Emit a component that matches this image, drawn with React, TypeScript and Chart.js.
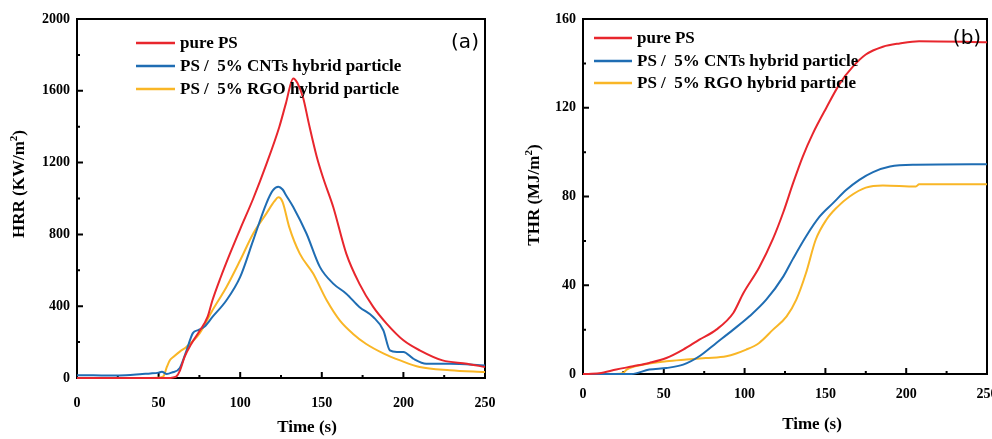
import React, { useEffect, useRef } from "react";
import { Chart, registerables } from "chart.js";
Chart.register(...registerables);

const seriesLabels = ["pure PS", "PS /  5% CNTs hybrid particle", "PS /  5% RGO hybrid particle"];
const seriesColors = ["#e8262d", "#1f6db3", "#f9b626"];

// Panel (a): HRR (KW/m2) vs time (s)
const hrrTimeRed = [0, 20, 40, 55, 59, 61, 63, 66, 70, 75, 80, 83, 88, 93.6, 100, 108, 116, 124, 128, 132.5, 135, 138.6, 142, 146.9, 151, 157, 165, 173, 181.5, 189.7, 200, 210, 224, 239, 250];
const hrrRed = [0, 0, 0, 0, 3, 10, 40, 119, 190, 260, 340, 433, 560, 690, 830, 1000, 1190, 1400, 1530, 1669, 1645, 1560, 1420, 1233, 1110, 953, 693, 526, 396, 303, 210, 154, 98, 80, 61];
const hrrTimeBlue = [0, 10, 20, 30, 40, 45, 50, 52, 55, 58, 63, 67, 71, 74.3, 78, 83, 91.6, 100, 108, 116, 120, 123.4, 126, 128, 132.5, 140.6, 148.8, 157, 165, 173, 181.5, 187.7, 191.7, 196, 200, 206, 214, 228.5, 250];
const hrrBlue = [15, 15, 14, 15, 22, 25, 30, 35, 22, 30, 56, 150, 250, 267, 285, 340, 433, 563, 768, 972, 1045, 1066, 1050, 1020, 953, 805, 619, 526, 470, 396, 340, 266, 154, 145, 145, 108, 80, 80, 70];
const hrrTimeYellow = [0, 20, 40, 50, 53, 55, 57, 59, 63, 67, 75, 83, 91.6, 100, 108, 116, 121, 123.4, 126, 130, 136.5, 144.7, 153, 161, 169, 177, 188, 198, 210, 228.5, 250];
const hrrYellow = [0, 0, 0, 2, 10, 60, 100, 117, 147, 173, 247, 377, 507, 656, 805, 916, 985, 1007, 980, 842, 693, 582, 433, 321, 247, 191, 136, 98, 61, 43, 33];

// Panel (b): THR (MJ/m2) vs time (s)
const thrTimeRed = [0, 10, 20.6, 31, 41, 51.6, 62, 72, 82.5, 93, 99.2, 109, 117.6, 124, 130, 136, 142, 150.6, 159, 167, 175, 185.6, 196, 208, 250];
const thrRed = [0, 0.3, 2, 3.5, 5, 7.2, 11, 15.5, 20, 27.5, 36.4, 48, 61, 73, 86, 98, 108, 120, 131, 138.5, 144, 147.5, 149, 150, 149.5];
const thrTimeBlue = [0, 20, 30, 41, 51.6, 62, 72, 82.5, 93, 103, 113.4, 124, 130, 138, 146.5, 154.7, 163, 171, 179.5, 190, 206, 250];
const thrBlue = [0, 0, 0, 2, 2.7, 4.2, 8, 14, 20, 26, 33.5, 44, 52, 62, 71, 77, 83, 87.5, 91, 93.5, 94.3, 94.5];
const thrTimeYellow = [0, 20, 25, 27, 37, 51.6, 64, 76, 88.7, 101, 109, 117.6, 126, 132, 138, 144, 150.6, 157, 165, 175, 185.6, 206, 208, 250];
const thrYellow = [0, 0, 0.5, 2, 4.2, 5.7, 6.5, 7.2, 8, 11, 14, 20, 26, 33.5, 45.5, 60.5, 69.5, 75, 80, 84, 85, 84.5, 85.5, 85.5];

const xTitle = "Time (s)";

type Panel = {
  tag: string;
  yTitle: string;
  yMax: number;
  yStep: number;
  times: number[][];
  values: number[][];
  canvasLeft: number;
  canvasWidth: number;
  area: { left: number; right: number; top: number; bottom: number };
  xPad: number;
  legend: { x0: number; x1: number; tx: number; rows: number[] };
  tagPos: { x: number; y: number };
  xTitlePos: { x: number; y: number };
  yTitlePos: { x: number; y: number };
};

const H = 439;
const serif = "'Liberation Serif', 'Times New Roman', serif";

const panels: Panel[] = [
  {
    tag: "(a)",
    yTitle: "HRR (KW/m",
    yMax: 2000,
    yStep: 400,
    times: [hrrTimeRed, hrrTimeBlue, hrrTimeYellow],
    values: [hrrRed, hrrBlue, hrrYellow],
    canvasLeft: 0,
    canvasWidth: 500,
    area: { left: 77, right: 485, top: 19, bottom: 378 },
    xPad: 17,
    legend: { x0: 136, x1: 175, tx: 180, rows: [43, 66, 89] },
    tagPos: { x: 465, y: 43 },
    xTitlePos: { x: 307, y: 428 },
    yTitlePos: { x: 20, y: 184 },
  },
  {
    tag: "(b)",
    yTitle: "THR (MJ/m",
    yMax: 160,
    yStep: 40,
    times: [thrTimeRed, thrTimeBlue, thrTimeYellow],
    values: [thrRed, thrBlue, thrYellow],
    canvasLeft: 500,
    canvasWidth: 492,
    area: { left: 83, right: 487, top: 19, bottom: 374 },
    xPad: 12,
    legend: { x0: 94, x1: 132, tx: 137, rows: [38, 61, 83] },
    tagPos: { x: 467, y: 39 },
    xTitlePos: { x: 312, y: 425 },
    yTitlePos: { x: 35, y: 195 },
  },
];

function makeDecor(p: Panel) {
  return {
    id: "decor" + p.tag,
    beforeDatasetsDraw(chart: any) {
      const ctx = chart.ctx as CanvasRenderingContext2D;
      const a = chart.chartArea;
      const xs = chart.scales.x;
      const ys = chart.scales.y;
      ctx.save();
      ctx.strokeStyle = "#000";
      ctx.lineWidth = 2;
      ctx.strokeRect(a.left, a.top, a.right - a.left, a.bottom - a.top);
      ctx.beginPath();
      for (let v = 0; v <= 250; v += 25) {
        const px = xs.getPixelForValue(v);
        const len = v % 50 === 0 ? 6 : 3;
        ctx.moveTo(px, a.bottom);
        ctx.lineTo(px, a.bottom - len);
      }
      for (let v = 0; v <= p.yMax; v += p.yStep / 2) {
        const py = ys.getPixelForValue(v);
        const len = Math.round(v / p.yStep) * p.yStep === v ? 6 : 3;
        ctx.moveTo(a.left, py);
        ctx.lineTo(a.left + len, py);
      }
      ctx.stroke();
      ctx.restore();
    },
    afterDraw(chart: any) {
      const ctx = chart.ctx as CanvasRenderingContext2D;
      ctx.save();
      const ds = chart.data.datasets;
      ctx.font = `bold 17px ${serif}`;
      ctx.textBaseline = "middle";
      ctx.textAlign = "left";
      ds.forEach((d: any, i: number) => {
        const y = p.legend.rows[i];
        ctx.strokeStyle = d.borderColor;
        ctx.lineWidth = 2.5;
        ctx.beginPath();
        ctx.moveTo(p.legend.x0, y);
        ctx.lineTo(p.legend.x1, y);
        ctx.stroke();
        ctx.fillStyle = "#000";
        ctx.fillText(d.label, p.legend.tx, y + 1);
      });
      ctx.font = `20px 'DejaVu Sans', 'Liberation Sans', sans-serif`;
      ctx.textAlign = "center";
      ctx.fillText(p.tag, p.tagPos.x, p.tagPos.y);
      ctx.font = `bold 17px ${serif}`;
      ctx.fillText(xTitle, p.xTitlePos.x, p.xTitlePos.y);
      ctx.translate(p.yTitlePos.x, p.yTitlePos.y);
      ctx.rotate(-Math.PI / 2);
      const mainFont = `bold 17px ${serif}`;
      const supFont = `bold 11px ${serif}`;
      ctx.font = mainFont;
      const w1 = ctx.measureText(p.yTitle).width;
      const w3 = ctx.measureText(")").width;
      ctx.font = supFont;
      const w2 = ctx.measureText("2").width;
      const total = w1 + w2 + w3;
      let x = -total / 2;
      ctx.textAlign = "left";
      ctx.font = mainFont;
      ctx.fillText(p.yTitle, x, 0);
      x += w1;
      ctx.font = supFont;
      ctx.fillText("2", x, -6);
      x += w2;
      ctx.font = mainFont;
      ctx.fillText(")", x, 0);
      ctx.restore();
    },
  };
}

function PanelChart({ p }: { p: Panel }) {
  const ref = useRef<HTMLCanvasElement | null>(null);
  useEffect(() => {
    if (!ref.current) return;
    const datasets = p.times.map((ts, i) => ({
      label: seriesLabels[i],
      data: ts.map((t, j) => ({ x: t, y: p.values[i][j] })),
      borderColor: seriesColors[i],
      backgroundColor: seriesColors[i],
      borderWidth: 2,
      pointRadius: 0,
      cubicInterpolationMode: "monotone" as const,
      clip: false as any,
    }));
    const tickFont = { family: serif, weight: "bold" as const, size: 14 };
    const chart = new Chart(ref.current, {
      type: "line",
      data: { datasets },
      options: {
        animation: false,
        responsive: false,
        maintainAspectRatio: false,
        layout: {
          padding: {
            left: 0,
            top: p.area.top,
            right: p.canvasWidth - p.area.right,
            bottom: 0,
          },
        },
        plugins: { legend: { display: false }, tooltip: { enabled: false } },
        scales: {
          x: {
            type: "linear",
            min: 0,
            max: 250,
            grid: { display: false, drawTicks: false },
            border: { display: false },
            ticks: { stepSize: 50, font: tickFont, color: "#000", padding: p.xPad, maxRotation: 0, callback: (v: any) => String(v) },
            afterFit: (s: any) => {
              s.height = H - p.area.bottom;
              s.paddingLeft = 0;
              s.paddingRight = 0;
              s.paddingTop = 0;
              s.paddingBottom = 0;
            },
          },
          y: {
            type: "linear",
            min: 0,
            max: p.yMax,
            grid: { display: false, drawTicks: false },
            border: { display: false },
            ticks: { stepSize: p.yStep, font: tickFont, color: "#000", padding: 7, callback: (v: any) => String(v) },
            afterFit: (s: any) => {
              s.width = p.area.left;
              s.paddingLeft = 0;
              s.paddingRight = 0;
              s.paddingTop = 0;
              s.paddingBottom = 0;
            },
          },
        },
      },
      plugins: [makeDecor(p)],
    });
    return () => chart.destroy();
  }, [p]);
  return (
    <canvas
      ref={ref}
      width={p.canvasWidth}
      height={H}
      style={{ position: "absolute", left: p.canvasLeft, top: 0, width: p.canvasWidth, height: H }}
    />
  );
}

export default function App() {
  return (
    <div style={{ position: "absolute", left: 0, top: 0, width: 992, height: H, background: "#fff", overflow: "hidden" }}>
      {panels.map((p) => (
        <PanelChart key={p.tag} p={p} />
      ))}
    </div>
  );
}
